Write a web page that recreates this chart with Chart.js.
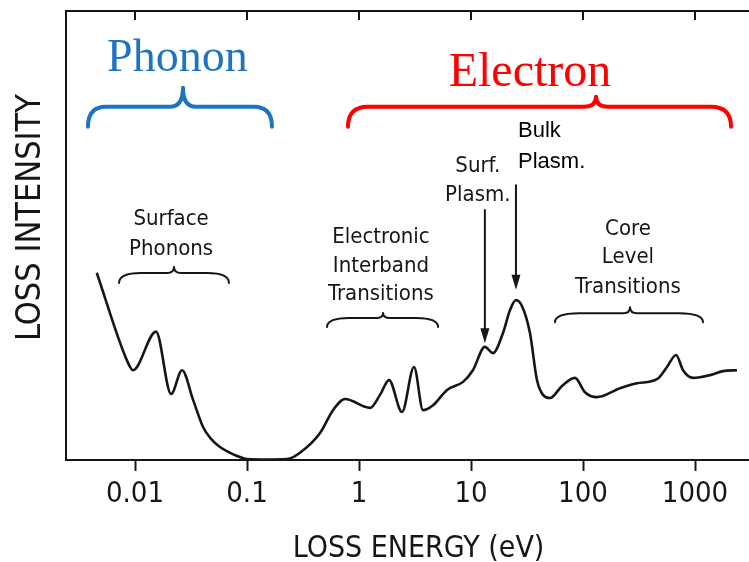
<!DOCTYPE html>
<html>
<head>
<meta charset="utf-8">
<script src="https://cdn.jsdelivr.net/npm/chart.js@4"></script>
<style>
    body { margin: 0; background: #fff; }
    #LossChart { display: block; }
</style>
</head>
<body>
<canvas id="LossChart" width="749" height="562"></canvas>
<script>
// loss spectrum, energy in eV (log axis) and intensity in arbitrary units
var energy = [0.00455, 0.00843, 0.0096, 0.0154, 0.021, 0.0263, 0.033, 0.0405, 0.0477, 0.0574, 0.0814,
    0.100, 0.151, 0.228, 0.297, 0.449, 0.586, 0.75, 1.254, 1.54, 1.853,
    2.42, 3.10, 3.73, 4.58, 6.11, 8.49, 10.4, 13.3, 15.7, 19.3,
    22.3, 25.2, 28.5, 33.6, 38.8, 43.9, 50.8, 64.9, 84.8, 104,
    133, 214, 303, 458, 562, 677, 782, 960, 1361, 1778, 2371];
var intensity = [41.7, 22.3, 20.0, 28.6, 14.7, 20.0, 13.4, 7.35, 4.7, 2.9, 0.9,
    0.2, 0.1, 0.2, 1.6, 6.0, 11.1, 13.6, 11.6, 14.5, 17.8,
    10.7, 20.7, 11.1, 12.2, 15.6, 17.4, 20.0, 25.2, 23.8, 28.3,
    33.4, 35.6, 34.3, 28.3, 17.8, 14.5, 13.8, 16.5, 18.3, 15.1,
    14.0, 16.0, 17.1, 18.0, 20.7, 23.4, 20.0, 18.3, 18.9, 19.8, 20.0];

var decades = [0.01, 0.1, 1, 10, 100, 1000];
var decadeLabels = ["0.01", "0.1", "1", "10", "100", "1000"];

var narrow = "'Liberation Sans Narrow', 'DejaVu Sans Condensed', sans-serif";
var ink = '#161616';

// braces: span in eV, tip position, ends at intensity y, rise/peak in px
var braces = [
    {from: 0.0038, to: 0.167, tip: 0.0268, y: 74.2, rise: 20, peak: 39, color: '#1f74c2', width: 4, rEnd: 18, rTip: 13},
    {from: 0.797, to: 2096, tip: 130.6, y: 74.2, rise: 20, peak: 30, color: '#ff0000', width: 4, rEnd: 20, rTip: 12},
    {from: 0.0072, to: 0.069, tip: 0.0223, y: 39.4, rise: 10, peak: 16, color: ink, width: 2, rEnd: 22, rTip: 7},
    {from: 0.518, to: 5.08, tip: 1.64, y: 29.6, rise: 9, peak: 14, color: ink, width: 2, rEnd: 22, rTip: 7},
    {from: 56.2, to: 1178, tip: 263, y: 30.7, rise: 9, peak: 15, color: ink, width: 2, rEnd: 24, rTip: 7}
];

var labels = [
    {lines: ["Phonon"], at: 0.0239, y: [86.6], font: "46px 'Liberation Serif', serif", color: '#1f74c2', align: 'center'},
    {lines: ["Electron"], at: 33.6, y: [83.3], font: "48px 'Liberation Serif', serif", color: '#ff0000', align: 'center'},
    {lines: ["Surface", "Phonons"], at: 0.021, y: [52.3, 45.7], font: "22px " + narrow, color: ink, align: 'center'},
    {lines: ["Electronic", "Interband", "Transitions"], at: 1.57, y: [48.3, 41.9, 35.6], font: "22px " + narrow, color: ink, align: 'center'},
    {lines: ["Core", "Level", "Transitions"], at: 252, y: [50.1, 43.9, 37.2], font: "22px " + narrow, color: ink, align: 'center'},
    {lines: ["Surf.", "Plasm."], at: 11.5, y: [64.1, 57.7], font: "22px " + narrow, color: ink, align: 'center'},
    {lines: ["Bulk", "Plasm."], at: 26.3, y: [71.9, 65.0], font: "22px 'Liberation Sans', Arial, sans-serif", color: '#000', align: 'left'}
];

// arrows pointing at the plasmon peaks
var arrows = [
    {at: 13.3, from: 55.7, to: 26.0},
    {at: 25.2, from: 61.2, to: 37.9}
];

function drawBrace(ctx, b, x1, x2, xt, yEnd) {
    let yMid = yEnd - b.rise;
    let yTip = yEnd - b.peak;
    ctx.beginPath();
    ctx.moveTo(x1, yEnd);
    ctx.quadraticCurveTo(x1, yMid, x1 + b.rEnd, yMid);
    ctx.lineTo(xt - b.rTip, yMid);
    ctx.quadraticCurveTo(xt, yMid, xt, yTip);
    ctx.quadraticCurveTo(xt, yMid, xt + b.rTip, yMid);
    ctx.lineTo(x2 - b.rEnd, yMid);
    ctx.quadraticCurveTo(x2, yMid, x2, yEnd);
    ctx.strokeStyle = b.color;
    ctx.lineWidth = b.width;
    ctx.lineCap = 'round';
    ctx.lineJoin = 'round';
    ctx.stroke();
}

var plugins = [{
    afterDraw: chart => {
        let ctx = chart.ctx;
        let xs = chart.scales.x;
        let ys = chart.scales.y;
        let area = chart.chartArea;
        ctx.save();

        // top frame line with inward decade ticks
        ctx.strokeStyle = ink;
        ctx.lineWidth = 2;
        ctx.beginPath();
        ctx.moveTo(area.left - 1, area.top);
        ctx.lineTo(area.right, area.top);
        decades.forEach(d => {
            let x = xs.getPixelForValue(d);
            ctx.moveTo(x, area.top);
            ctx.lineTo(x, area.top + 9);
        });
        ctx.stroke();

        // axis titles
        ctx.fillStyle = ink;
        ctx.textAlign = 'center';
        ctx.textBaseline = 'alphabetic';
        ctx.font = "30px " + narrow;
        ctx.fillText('LOSS ENERGY (eV)', xs.getPixelForValue(3.4), chart.height - 5);
        ctx.save();
        ctx.translate(40, ys.getPixelForValue(54));
        ctx.rotate(-Math.PI / 2);
        ctx.font = "34px " + narrow;
        ctx.fillText('LOSS INTENSITY', 0, 0);
        ctx.restore();

        braces.forEach(b => drawBrace(ctx, b,
            xs.getPixelForValue(b.from), xs.getPixelForValue(b.to),
            xs.getPixelForValue(b.tip), ys.getPixelForValue(b.y)));

        labels.forEach(l => {
            ctx.font = l.font;
            ctx.fillStyle = l.color;
            ctx.textAlign = l.align;
            ctx.textBaseline = 'alphabetic';
            l.lines.forEach((t, i) => ctx.fillText(t, xs.getPixelForValue(l.at), ys.getPixelForValue(l.y[i])));
        });

        arrows.forEach(a => {
            let x = xs.getPixelForValue(a.at);
            let y1 = ys.getPixelForValue(a.from);
            let y2 = ys.getPixelForValue(a.to);
            ctx.strokeStyle = ink;
            ctx.fillStyle = ink;
            ctx.lineWidth = 2;
            ctx.beginPath();
            ctx.moveTo(x, y1);
            ctx.lineTo(x, y2 - 10);
            ctx.stroke();
            ctx.beginPath();
            ctx.moveTo(x - 4.5, y2 - 15);
            ctx.lineTo(x + 4.5, y2 - 15);
            ctx.lineTo(x, y2);
            ctx.closePath();
            ctx.fill();
        });

        ctx.restore();
    }
}];

var options = {
    responsive: false,
    animation: false,
    layout: {padding: {top: 11, right: 0, bottom: 0, left: 0}},
    plugins: {
        legend: {display: false},
        tooltip: {enabled: false}
    },
    scales: {
        x: {
            type: 'logarithmic',
            min: 0.00242,
            max: 3034,
            afterBuildTicks: scale => {
                scale.ticks = decades.map(v => ({value: v}));
            },
            afterFit: scale => { scale.height = 102; },
            ticks: {
                autoSkip: false,
                maxRotation: 0,
                padding: 6,
                color: ink,
                font: {family: narrow, size: 29},
                callback: (value) => decadeLabels[decades.indexOf(value)]
            },
            grid: {
                display: true,
                drawOnChartArea: false,
                drawTicks: true,
                tickLength: 11,
                tickWidth: 2,
                tickColor: ink
            },
            border: {display: true, color: ink, width: 2}
        },
        y: {
            min: 0,
            max: 100,
            afterFit: scale => { scale.width = 66; },
            ticks: {display: false},
            grid: {display: false},
            border: {display: true, color: ink, width: 2}
        }
    }
};

new Chart(document.getElementById('LossChart'), {
    type: 'line',
    options: options,
    plugins: plugins,
    data: {
        datasets: [{
            data: energy.map((e, i) => ({x: e, y: intensity[i]})),
            borderColor: ink,
            borderWidth: 2.6,
            pointRadius: 0,
            fill: false,
            cubicInterpolationMode: 'monotone'
        }]
    }
});
</script>
</body>
</html>
